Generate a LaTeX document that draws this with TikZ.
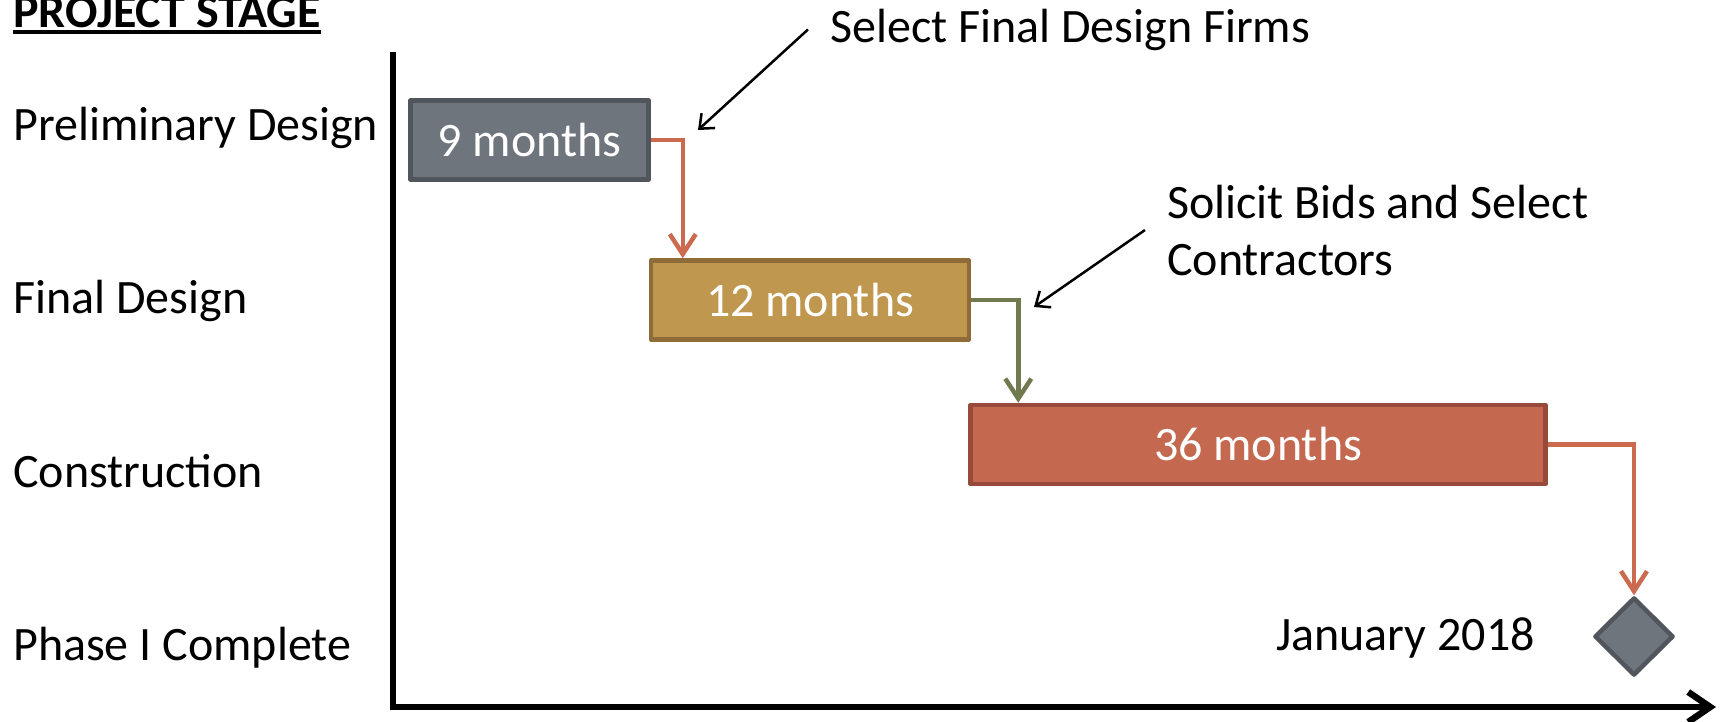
\documentclass[tikz,border=0pt]{standalone}
\usepackage{fontspec}
\setmainfont{Carlito}
\usetikzlibrary{arrows.meta,shapes.geometric}

\definecolor{barGray}{HTML}{6E757C}
\definecolor{barGrayDark}{HTML}{50565B}
\definecolor{barGold}{HTML}{C0974E}
\definecolor{barGoldDark}{HTML}{8D6C37}
\definecolor{barRust}{HTML}{C4684F}
\definecolor{barRustDark}{HTML}{97493A}
\definecolor{linkRed}{HTML}{CB6A4F}
\definecolor{linkGreen}{HTML}{6F7B4F}

\newcommand\chartfont{\fontsize{48}{57}\selectfont}

\tikzset{
	every node/.style={font=\chartfont, inner sep=0pt},
	bar/.style={draw, line width=4.5pt, line join=round, minimum height=79pt, text=white},
	link/.style={line width=4.5pt, -{Straight Barb[length=20pt,width=26pt]}},
	note/.style={line width=2.5pt, -{Straight Barb[length=12pt,width=20pt]}},
	axis/.style={line width=6.5pt, -{Straight Barb[length=22pt,width=30pt]}}
}

\begin{document}
\begin{tikzpicture}[x=1pt,y=-1pt]
		%%%%% START %%%%%
		\useasboundingbox (0,0) rectangle (1722,721);
		
		\coordinate (ytop) at (393,52);
		\coordinate (origin) at (393,707);
		\coordinate (xend) at (1716,707);
		\draw[axis] (ytop) -- (origin) -- (xend);
		
		\node[anchor=base west, font=\chartfont\bfseries] (title) at (13,27) {PROJECT STAGE};
		\draw[line width=4pt] ([yshift=-5pt]title.base west) -- ([yshift=-5pt]title.base east);
		
		\node[anchor=base west] (stagePrelim) at (13,140) {Preliminary Design};
		\node[anchor=base west] (stageFinal) at (13,313) {Final Design};
		\node[anchor=base west] (stageConstr) at (13,487) {Construction};
		\node[anchor=base west] (stageDone) at (13,660) {Phase I Complete};
		
		\node[bar, fill=barGray, draw=barGrayDark, minimum width=238pt] (prelim) at (529.5,140) {9 months};
		\node[bar, fill=barGold, draw=barGoldDark, minimum width=318pt] (final) at (810,300) {12 months};
		\node[bar, fill=barRust, draw=barRustDark, minimum width=575pt] (constr) at (1258,444.5) {36 months};
		\node[diamond, fill=barGray, draw=barGrayDark, line width=4.5pt, line join=round, minimum width=79pt, minimum height=78pt] (done) at (1634,636.5) {};
		\node[anchor=base east] (doneDate) at (1535,650) {January 2018};
		
		\draw[link, draw=linkRed] (prelim.east) -| ([xshift=34pt]final.north west);
		\draw[link, draw=linkGreen] (final.east) -| ([xshift=50pt]constr.north west);
		\draw[link, draw=linkRed] (constr.east) -| (done.north);
		
		\node[anchor=base west] (noteFirms) at (830,42) {Select Final Design Firms};
		\node[anchor=base west, align=left] (noteBids) at (1167,275) {Solicit Bids and Select\\Contractors};
		\coordinate (firmsTip) at (698,130);
		\coordinate (bidsTip) at (1034,307);
		\draw[note] ([xshift=-22pt]noteFirms.west) -- (firmsTip);
		\draw[note] ([xshift=-22pt]noteBids.west) -- (bidsTip);
		
		%%%%% END %%%%%
\end{tikzpicture}
\end{document}
